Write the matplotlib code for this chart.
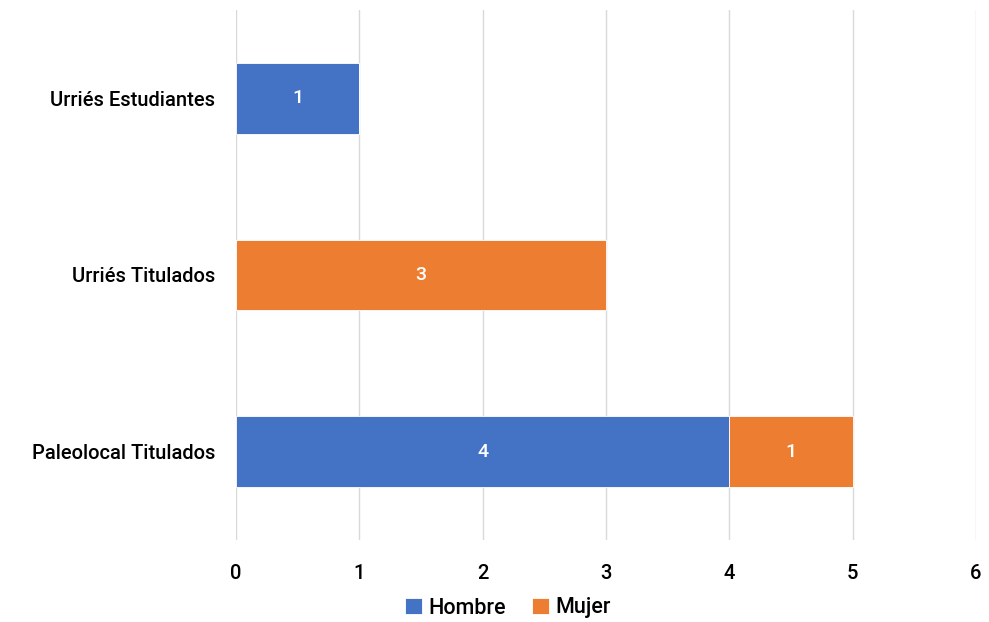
import matplotlib
matplotlib.use("Agg")
import matplotlib.pyplot as plt
import numpy as np

plt.rcParams['font.family'] = ['Roboto', 'DejaVu Sans']
plt.rcParams['font.weight'] = 'medium'

# categories from bottom to top
categories = ["Paleolocal Titulados", "Urriés Titulados", "Urriés Estudiantes"]
hombre = [4, 0, 1]
mujer = [1, 3, 0]
x_ticks = [0, 1, 2, 3, 4, 5, 6]

blue = '#4472C4'
orange = '#ED7D31'

fig = plt.figure(figsize=(9.89, 6.22), dpi=100)
ax = fig.add_axes([236 / 989, 1 - 540 / 622, 740 / 989, 530 / 622])

y = np.arange(len(categories))
b1 = ax.barh(y, hombre, height=0.4, color=blue, edgecolor='white', linewidth=0.6, label='Hombre')
b2 = ax.barh(y, mujer, left=hombre, height=0.4, color=orange, edgecolor='white', linewidth=0.6, label='Mujer')

for bars, vals in ((b1, hombre), (b2, mujer)):
    for rect, v in zip(bars, vals):
        if v:
            ax.text(rect.get_x() + rect.get_width() / 2, rect.get_y() + rect.get_height() / 2,
                    str(v), ha='center', va='center', color='white', fontsize=14)

ax.set_xlim(0, 6)
ax.set_ylim(-0.5, 2.5)
ax.set_xticks(x_ticks)
ax.set_yticks(y)
ax.set_yticklabels(categories)
ax.tick_params(axis='both', length=0, labelsize=14.5, colors='black')
ax.tick_params(axis='x', pad=17)
ax.tick_params(axis='y', pad=15)
ax.grid(axis='x', color='#D9D9D9', linewidth=1)
ax.set_axisbelow(True)
for s in ax.spines.values():
    s.set_visible(False)

fig.legend(handles=[b1, b2], loc='center', bbox_to_anchor=(508 / 989, 1 - 608 / 622), ncol=2,
           frameon=False, fontsize=15.5, handlelength=0.8, handleheight=0.8, handletextpad=0.3,
           columnspacing=1.2)

fig.savefig('out.png', dpi=100)
